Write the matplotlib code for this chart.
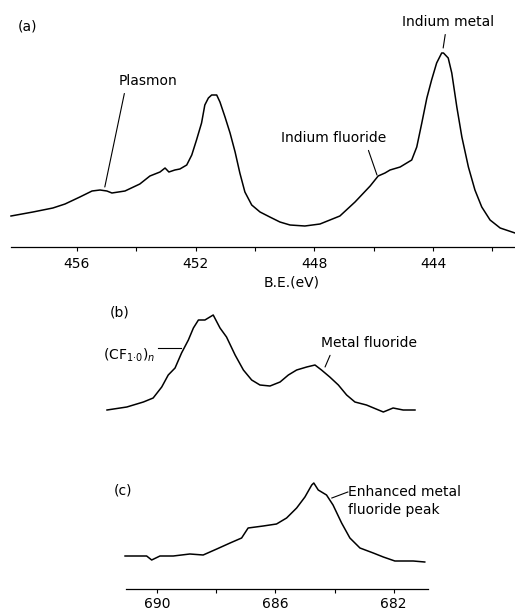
import matplotlib
matplotlib.use("Agg")
import matplotlib.pyplot as plt

plt.rcParams['font.family'] = ['DejaVu Sans']
plt.rcParams['mathtext.default'] = 'regular'

# ---- Panel (a): In 3d region ----
be_a = [458.22, 457.48, 456.81, 456.40, 455.90, 455.49, 455.22, 454.99, 454.82, 454.38,
        453.88, 453.54, 453.20, 453.03, 452.90, 452.70, 452.53, 452.30, 452.13, 451.97,
        451.80, 451.69, 451.57, 451.46, 451.29, 451.18, 451.01, 450.84, 450.67, 450.51,
        450.34, 450.11, 449.83, 449.50, 449.16, 448.82, 448.32, 447.81, 447.14, 446.63,
        446.12, 445.85, 445.62, 445.45, 445.11, 444.72, 444.55, 444.38, 444.21, 444.05,
        443.88, 443.71, 443.65, 443.49, 443.37, 443.20, 443.03, 442.81, 442.59, 442.36,
        442.08, 441.74, 441.24]
int_a = [31, 35, 39, 43, 50, 56, 57, 56, 54, 56,
         63, 71, 75, 79, 75, 77, 78, 82, 92, 107,
         124, 142, 149, 152, 152, 145, 130, 114, 95, 74,
         55, 42, 35, 30, 25, 22, 21, 23, 31, 45,
         61, 71, 74, 77, 80, 87, 100, 124, 149, 167,
         184, 194, 194, 189, 174, 140, 110, 80, 57, 40,
         27, 19, 14]

# ---- Panel (b): F 1s ----
be_b = [691.69, 691.02, 690.46, 690.13, 689.84, 689.62, 689.39, 689.17, 688.94,
        688.77, 688.60, 688.38, 688.10, 687.87, 687.65, 687.36, 687.08, 686.80, 686.52,
        686.18, 685.84, 685.56, 685.28, 684.94, 684.66, 684.44, 684.16, 683.87, 683.59,
        683.31, 682.92, 682.35, 682.02, 681.68, 681.28]
int_b = [0, 3, 8, 12, 23, 35, 42, 57, 70,
         82, 90, 90, 95, 82, 73, 55, 40, 30, 25,
         24, 28, 35, 40, 43, 45, 40, 33, 25, 15,
         8, 5, -2, 2, 0, 0]

# ---- Panel (c): F 1s ----
be_c = [691.08, 690.35, 690.18, 689.90, 689.45, 688.89, 688.44, 687.98, 687.53, 687.14,
        686.92, 686.41, 685.96, 685.62, 685.28, 685.00, 684.77, 684.70, 684.55, 684.27,
        684.05, 683.76, 683.48, 683.14, 682.69, 682.35, 681.96, 681.34, 680.95]
int_c = [4, 4, 0, 4, 4, 6, 5, 11, 17, 22,
         32, 34, 36, 42, 52, 63, 75, 77, 70, 65,
         55, 37, 22, 12, 7, 3, -1, -1, -2]

ticks_a = [456, 452, 448, 444]
minor_a = [454, 450, 446, 442]
ticks_bc = [690, 686, 682]
minor_bc = [688, 684]

W, H = 515, 614
fig = plt.figure(figsize=(W / 100, H / 100), dpi=100)

def px_axes(x0, x1, ytop, ybot):
    return fig.add_axes([x0 / W, 1 - ybot / H, (x1 - x0) / W, (ybot - ytop) / H])

LW = 1.1
FS = 10

def line_props(rel):
    return dict(arrowstyle='-', lw=0.8, color='black', shrinkA=2, shrinkB=0, relpos=rel)

# Panel (a)
ax = px_axes(11, 515, 20, 247)
ax.plot(be_a, int_a, color='black', lw=LW, clip_on=False)
ax.set_xlim(458.22, 441.24)
ax.set_ylim(0, 227)
for s in ['top', 'left', 'right']:
    ax.spines[s].set_visible(False)
ax.spines['bottom'].set_linewidth(0.9)
ax.set_yticks([])
ax.set_xticks(ticks_a)
ax.set_xticks(minor_a, minor=True)
ax.set_xticklabels([str(t) for t in ticks_a])
ax.tick_params(axis='x', which='both', direction='out', length=3, width=0.8, pad=4, labelsize=FS)
ax.patch.set_visible(False)

ax.text(457.65, 220, '(a)', fontsize=FS, ha='center', va='center')
ax.annotate('Plasmon', xy=(455.06, 60), xytext=(453.61, 166), fontsize=FS,
            ha='center', va='center', arrowprops=line_props((0.12, 0.0)))
ax.annotate('Indium fluoride', xy=(445.89, 72), xytext=(447.34, 109), fontsize=FS,
            ha='center', va='center', arrowprops=line_props((0.81, 0.0)))
ax.annotate('Indium metal', xy=(443.66, 199), xytext=(443.50, 225), fontsize=FS,
            ha='center', va='center', annotation_clip=False,
            arrowprops=line_props((0.48, 0.0)))
fig.text(292 / W, 1 - 283 / H, 'B.E.(eV)', fontsize=FS, ha='center', va='center')

# Panels (b) and (c)
b_off = 179
c_off = 29
ax2 = px_axes(107, 428, 300, 589)
ax2.plot(be_b, [v + b_off for v in int_b], color='black', lw=LW, clip_on=False)
ax2.plot(be_c, [v + c_off for v in int_c], color='black', lw=LW, clip_on=False)
ax2.set_xlim(691.69, 680.84)
ax2.set_ylim(0, 289)
for s in ['top', 'left', 'right']:
    ax2.spines[s].set_visible(False)
ax2.spines['bottom'].set_bounds(691.05, 680.84)
ax2.spines['bottom'].set_linewidth(0.9)
ax2.set_yticks([])
ax2.set_xticks(ticks_bc)
ax2.set_xticks(minor_bc, minor=True)
ax2.set_xticklabels([str(t) for t in ticks_bc])
ax2.tick_params(axis='x', which='both', direction='out', length=3, width=0.8, pad=3, labelsize=FS)
ax2.patch.set_visible(False)

ax2.text(691.25, 276, '(b)', fontsize=FS, ha='center', va='center')
ax2.text(690.95, 234, r'(CF$_{1·0}$)$_{\mathit{n}}$', fontsize=FS, ha='center', va='center')
ax2.plot([689.97, 689.19], [241, 241], color='black', lw=0.8)
ax2.annotate('Metal fluoride', xy=(684.32, 222), xytext=(682.84, 246), fontsize=FS,
             ha='center', va='center', annotation_clip=False,
             arrowprops=line_props((0.12, 0.0)))
ax2.text(691.15, 99, '(c)', fontsize=FS, ha='center', va='center')
ax2.text(683.55, 88, 'Enhanced metal\nfluoride peak', fontsize=FS, ha='left', va='center',
         linespacing=1.3)
ax2.plot([683.55, 684.09], [97, 91], color='black', lw=0.8)

fig.savefig('out.png', dpi=100)
